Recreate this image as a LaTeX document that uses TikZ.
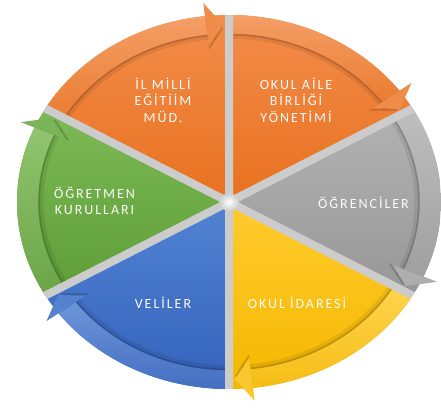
\documentclass[tikz,border=0pt]{standalone}
\usepackage{fontspec}
\newfontfamily\segfont[LetterSpace=14]{Carlito}
\usepackage{tikz}

\definecolor{orTop}{HTML}{F38D4B}
\definecolor{orBot}{HTML}{E8711F}
\definecolor{grTop}{HTML}{B3B3B3}
\definecolor{grBot}{HTML}{979797}
\definecolor{yeTop}{HTML}{FFCB2E}
\definecolor{yeBot}{HTML}{F5B800}
\definecolor{blTop}{HTML}{5283D2}
\definecolor{blBot}{HTML}{3462BC}
\definecolor{gnTop}{HTML}{7DBA55}
\definecolor{gnBot}{HTML}{5E9D38}

\tikzset{
  tag/.style={text=white!96!gray, align=center, inner sep=0pt,
    font=\segfont\fontsize{14}{16.5}\selectfont},
  gapline/.style={line width=8pt, color=black!20},
  ringshade/.style={line width=5pt, black, opacity=.08},
  ringedge/.style={line width=2pt, black, opacity=.16}
}

\begin{document}
\begin{tikzpicture}[x=1pt, y=1pt]
\useasboundingbox (0,0) rectangle (441,407);
\begin{scope}[shift={(229,205)}, yscale=0.882]
\fill[black!20] (0,0) circle [radius=212];
% slices and rings
\foreach \s/\ct/\cb in {150/orTop/orBot, 90/orTop/orBot, 30/grTop/grBot,
  -30/yeTop/yeBot, -90/blTop/blBot, -150/gnTop/gnBot}{
  \shade[top color=\ct, bottom color=\cb]
    (0,0) -- (\s:212) arc [start angle=\s, end angle=\s-60, radius=212] -- cycle;
  \draw[ringshade] (\s:188) arc [start angle=\s, end angle=\s-56, radius=188];
  \draw[ringedge] (\s:190) arc [start angle=\s, end angle=\s-56, radius=190];
  \shade[top color=\ct!85!white, bottom color=\cb!92!white]
    (\s:212) arc [start angle=\s, end angle=\s-53.5, radius=212]
    -- (\s-53.5:191) arc [start angle=\s-53.5, end angle=\s, radius=191] -- cycle;
}
% gaps
\begin{scope}
\clip (0,0) circle [radius=212];
\draw[gapline] (90:215) -- (-90:215) (30:215) -- (210:215) (-30:215) -- (150:215);
\end{scope}
\shade[inner color=white, outer color=black!20] (0,0) circle [radius=10];
% arrow heads
\foreach \s/\ct/\cb in {150/orTop/orBot, 90/orTop/orBot, 30/grTop/grBot,
  -30/yeTop/yeBot, -90/blTop/blBot, -150/gnTop/gnBot}{
  \fill[black, opacity=.16] (\s-53.5:174) -- (\s-53.5:222) -- (\s-58.3:197) -- cycle;
  \fill[\ct!50!\cb!90!white] (\s-53.5:178) -- (\s-53.5:227) -- (\s-58.3:201) -- cycle;
}
\end{scope}

\node[tag] (ilmilli) at (163,307) {İL MİLLİ\\EĞİTİİM\\MÜD.};
\node[tag] (aile) at (296,307) {OKUL AİLE\\BİRLİĞİ\\YÖNETİMİ};
\node[tag] (ogrenci) at (363.5,204) {ÖĞRENCİLER};
\node[tag] (idare) at (297,104) {OKUL İDARESİ};
\node[tag] (veli) at (163,104) {VELİLER};
\node[tag] (ogretmen) at (94.5,206) {ÖĞRETMEN\\KURULLARI};
\end{tikzpicture}
\end{document}
